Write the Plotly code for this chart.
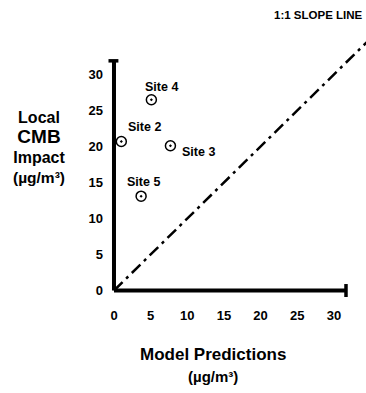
import plotly.graph_objects as go

# Site measurements: model predictions vs. local CMB impact (µg/m³)
sites = ["Site 4", "Site 2", "Site 3", "Site 5"]
model_pred = [5.1, 1.0, 7.7, 3.7]
cmb_impact = [26.5, 20.7, 20.1, 13.1]

# 1:1 reference line
slope_x = [0, 36]
slope_y = [0, 36]

# axis ticks
tick_vals = [0, 5, 10, 15, 20, 25, 30]
tick_text = ["0", "5", "10", "15", "20", "25", "30"]

# extent of the drawn axis lines
x_axis_end = 31.65
y_axis_end = 31.9

FONT = "Liberation Sans, Arial, Helvetica, sans-serif"

fig = go.Figure()

fig.add_trace(go.Scatter(
    x=slope_x, y=slope_y, mode="lines",
    line=dict(color="black", width=2.5, dash="12px,5px,3px,5px"),
    hoverinfo="skip", showlegend=False,
))

fig.add_trace(go.Scatter(
    x=model_pred, y=cmb_impact, mode="markers",
    marker=dict(symbol="circle-open-dot", size=10, color="black",
                line=dict(color="black", width=1.5)),
    text=sites, showlegend=False,
))

# axis lines with end caps
shape_line = dict(color="black", width=4)
fig.add_shape(type="line", x0=0, y0=0, x1=0, y1=y_axis_end, line=shape_line)
fig.add_shape(type="line", x0=0, y0=0, x1=x_axis_end, y1=0, line=shape_line)
fig.add_shape(type="line", x0=-0.75, x1=0.6, y0=y_axis_end, y1=y_axis_end,
              line=dict(color="black", width=3.5))
fig.add_shape(type="line", x0=x_axis_end, x1=x_axis_end, y0=-0.9, y1=0.9,
              line=dict(color="black", width=3.5))

# site labels, offset from their markers
label_offsets = {"Site 4": (10, 13), "Site 2": (23, 14),
                 "Site 3": (28, -6), "Site 5": (2, 14)}
for name, xv, yv in zip(sites, model_pred, cmb_impact):
    dx, dy = label_offsets[name]
    fig.add_annotation(x=xv, y=yv, text=f"<b>{name}</b>", showarrow=False,
                       xshift=dx, yshift=dy,
                       font=dict(family=FONT, size=12.5, color="black"))

# y-axis title as one stacked block, "CMB" set larger
left_title = ("<b><span style='font-size:16px'>Local</span></b><br>"
              "<b><span style='font-size:19px'>CMB</span></b><br>"
              "<b><span style='font-size:16px'>Impact</span></b><br>"
              "<b><span style='font-size:15.5px'>(\u00b5g/m\u00b3)</span></b>")
fig.add_annotation(xref="paper", yref="paper", x=-0.258, y=0.543,
                   text=left_title, showarrow=False,
                   xanchor="center", yanchor="middle", align="center",
                   font=dict(family=FONT, size=15.5, color="black"))

fig.add_annotation(xref="paper", yref="paper", x=0.4115, y=-0.205,
                   text="<b>Model Predictions</b>", showarrow=False,
                   xanchor="center", yanchor="middle",
                   font=dict(family=FONT, size=17, color="black"))
fig.add_annotation(xref="paper", yref="paper", x=0.4115, y=-0.284,
                   text="<b>(\u00b5g/m\u00b3)</b>", showarrow=False,
                   xanchor="center", yanchor="middle",
                   font=dict(family=FONT, size=15, color="black"))
fig.add_annotation(xref="paper", yref="paper", x=0.998, y=1.018,
                   text="<b>1:1 SLOPE LINE</b>", showarrow=False,
                   xanchor="right", yanchor="middle",
                   font=dict(family=FONT, size=11.5, color="black"))

axis_common = dict(showgrid=False, zeroline=False, showline=False,
                   tickmode="array", tickvals=tick_vals, ticktext=tick_text,
                   ticks="", tickfont=dict(family=FONT, size=13, color="black",
                                           weight="bold"))

fig.update_layout(
    width=366, height=393,
    margin=dict(l=106, r=0, t=20, b=95),
    paper_bgcolor="white", plot_bgcolor="white",
    xaxis=dict(range=[-1.09, 34.38], ticklabelstandoff=8, **axis_common),
    yaxis=dict(range=[-1.04, 37.57], ticklabelstandoff=2, **axis_common),
    showlegend=False,
)

fig.write_html("out.html")
